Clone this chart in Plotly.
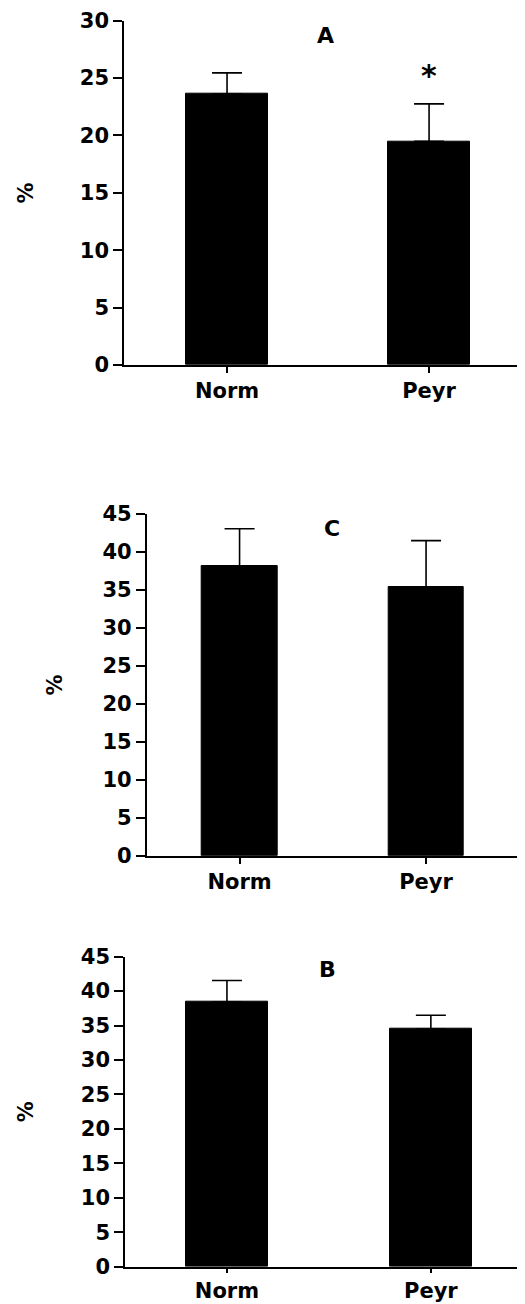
import plotly.graph_objects as go

# ---- data ----
categories = ["Norm", "Peyr"]

panel_A_mean = [23.6, 19.5]
panel_A_err = [1.85, 3.25]

panel_C_mean = [38.1, 35.4]
panel_C_err = [4.95, 6.1]

panel_B_mean = [38.4, 34.5]
panel_B_err = [3.15, 2.0]

y_title = "%"
panel_labels = ["A", "C", "B"]
y_ranges = [30, 45, 45]
star_label = "*"

# page is 525x1304; the html body adds an 8px margin, so the figure is drawn 8px in
OFF = 8
W, H = 525 - OFF, 1304 - OFF
FONT = "DejaVu Sans"
TICK_SIZE = 21


def px_x(p):
    return (p - OFF) / W


def px_y(p):
    return 1 - (p - OFF) / H


fig = go.Figure()

panels = [
    # (means, errs, axis id, x span px, y span px (top, bottom), x range, bar width, standoff, x ticklen)
    (panel_A_mean, panel_A_err, "", (124, 522), (20.7, 365), [-0.51, 1.46], 0.41, 40, 6),
    (panel_C_mean, panel_C_err, "2", (146.7, 518), (514, 855.7), [-0.498, 1.493], 0.405, 34, 6),
    (panel_B_mean, panel_B_err, "3", (125, 522), (956.7, 1266.7), [-0.5, 1.447], 0.405, 41, 4),
]

layout_updates = {}
for i, (means, errs, ax, (x0, x1), (ytop, ybot), xr, bw, stand, xtl) in enumerate(panels):
    fig.add_trace(go.Bar(
        x=categories, y=means,
        marker=dict(color="black", line=dict(color="black", width=1)),
        width=bw,
        error_y=dict(type="data", array=errs, arrayminus=[0] * len(errs),
                     symmetric=False, color="black", thickness=1.6, width=15),
        xaxis="x" + ax, yaxis="y" + ax, showlegend=False,
    ))
    xa = "xaxis" + ax
    ya = "yaxis" + ax
    layout_updates[xa] = dict(
        domain=[px_x(x0), px_x(x1)], anchor="y" + ax, range=xr, type="category",
        showline=True, linecolor="black", linewidth=1.6, showgrid=False, zeroline=False,
        ticks="outside", ticklen=xtl, tickwidth=1.6, tickcolor="black",
        tickfont=dict(family=FONT, size=TICK_SIZE, color="black", weight="bold"),
        automargin=False, fixedrange=True,
    )
    layout_updates[ya] = dict(
        domain=[px_y(ybot), px_y(ytop)], anchor="x" + ax,
        range=[0, y_ranges[i]], dtick=5, tick0=0,
        showline=True, linecolor="black", linewidth=1.6, showgrid=False, zeroline=False,
        ticks="outside", ticklen=9, tickwidth=1.6, tickcolor="black",
        tickfont=dict(family=FONT, size=TICK_SIZE, color="black", weight="bold"),
        title=dict(text=y_title, standoff=stand,
                   font=dict(family=FONT, size=TICK_SIZE, color="black", weight="bold")),
        automargin=False, fixedrange=True,
    )

fig.update_layout(**layout_updates)

annotations = []
label_pos = [(325, 35), (332, 528), (327, 969)]
for lab, (px, py) in zip(panel_labels, label_pos):
    annotations.append(dict(
        text=lab, x=px_x(px), y=px_y(py), xref="paper", yref="paper",
        showarrow=False, xanchor="center", yanchor="middle",
        font=dict(family=FONT, size=22, color="black", weight="bold"),
    ))
# significance star above Peyr in panel A
annotations.append(dict(
    text=star_label, x="Peyr", y=panel_A_mean[1] + panel_A_err[1], xref="x", yref="y",
    showarrow=False, xanchor="center", yanchor="bottom", yshift=9,
    font=dict(family=FONT, size=30, color="black", weight="bold"),
))

fig.update_layout(
    width=W, height=H,
    margin=dict(l=0, r=0, t=0, b=0),
    paper_bgcolor="white", plot_bgcolor="white",
    annotations=annotations,
    bargap=0,
)

fig.write_html("out.html")
